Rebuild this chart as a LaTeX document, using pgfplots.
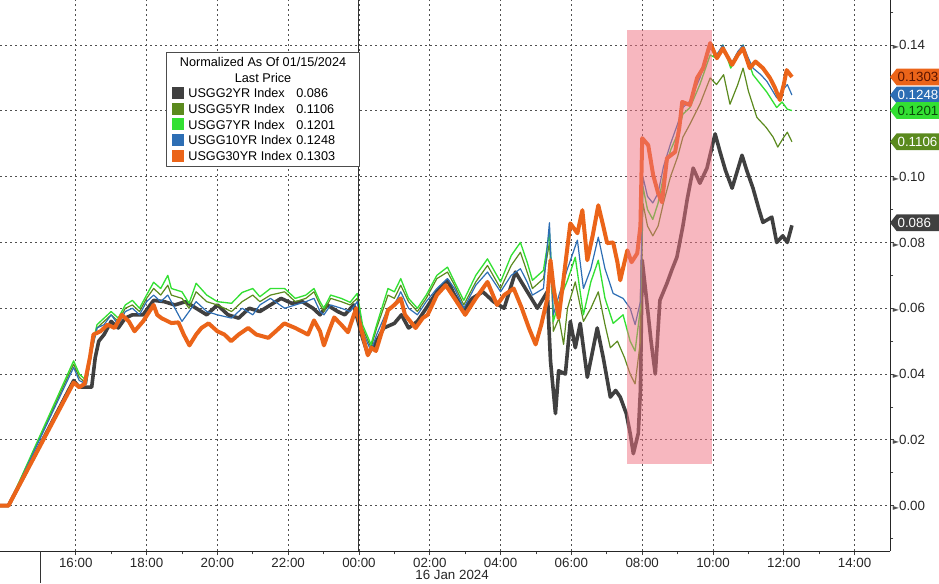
\documentclass[border=0pt]{standalone}
\usepackage{pgfplots}
\pgfplotsset{compat=1.18}
\usepackage{pgfplotstable}
\usepackage{fontspec}
\setmainfont{Liberation Sans}
\newfontfamily\dejavu{DejaVu Sans}

\definecolor{cTwo}{HTML}{404040}
\definecolor{cFive}{HTML}{5B8A1E}
\definecolor{cSeven}{HTML}{33E033}
\definecolor{cTen}{HTML}{2D6EB4}
\definecolor{cThirty}{HTML}{EB6419}
\definecolor{cBand}{HTML}{F07080}
\definecolor{cGrid}{HTML}{505050}
\definecolor{tagRed}{HTML}{5A1400}
\definecolor{tagGreen}{HTML}{0A4A0A}

% hours from 00:00 on 16 Jan 2024, normalized yield change
\pgfplotstableread{
h v
-10.14 0
-9.9 0
-8.06 0.038
-7.9 0.036
-7.55 0.036
-7.45 0.045
-7.35 0.050
-7.2 0.052
-7.0 0.056
-6.8 0.054
-6.6 0.057
-6.4 0.058
-6.1 0.058
-5.8 0.0624
-5.5 0.062
-5.2 0.061
-4.9 0.062
-4.6 0.060
-4.3 0.058
-4.0 0.061
-3.7 0.058
-3.4 0.057
-3.1 0.060
-2.8 0.059
-2.5 0.061
-2.2 0.063
-1.9 0.0615
-1.6 0.062
-1.3 0.060
-1.1 0.058
-0.9 0.061
-0.6 0.059
-0.4 0.058
-0.15 0.061
0.1 0.051
0.25 0.046
0.45 0.049
0.7 0.054
1.0 0.0554
1.2 0.058
1.4 0.054
1.65 0.056
1.9 0.060
2.2 0.065
2.5 0.0685
2.7 0.064
2.96 0.0594
3.2 0.063
3.5 0.065
3.8 0.062
4.1 0.060
4.42 0.071
4.7 0.066
5.04 0.060
5.32 0.065
5.41 0.044
5.55 0.028
5.64 0.041
5.83 0.040
5.97 0.056
6.11 0.048
6.25 0.0554
6.45 0.039
6.6 0.047
6.73 0.054
6.90 0.045
7.10 0.033
7.25 0.035
7.38 0.033
7.55 0.028
7.66 0.022
7.75 0.0158
7.89 0.022
7.95 0.035
8.0 0.0746
8.1 0.065
8.25 0.050
8.37 0.040
8.5 0.0624
8.70 0.0676
8.85 0.072
8.98 0.0755
9.15 0.085
9.27 0.093
9.44 0.1026
9.63 0.098
9.83 0.1026
10.06 0.113
10.2 0.1075
10.35 0.102
10.54 0.0965
10.82 0.1065
10.95 0.102
11.13 0.0965
11.3 0.090
11.41 0.0861
11.66 0.0877
11.80 0.080
11.97 0.082
12.1 0.080
12.23 0.0852
}\usTwo

\pgfplotstableread{
h v
-10.14 0
-9.9 0
-8.06 0.043
-7.9 0.039
-7.7 0.037
-7.55 0.047
-7.4 0.054
-7.2 0.056
-7.0 0.058
-6.8 0.056
-6.6 0.060
-6.4 0.061
-6.2 0.059
-6.0 0.063
-5.8 0.066
-5.6 0.064
-5.4 0.067
-5.3 0.064
-5.0 0.063
-4.8 0.060
-4.6 0.065
-4.3 0.062
-4.0 0.061
-3.6 0.059
-3.3 0.062
-3.0 0.064
-2.8 0.062
-2.5 0.064
-2.1 0.065
-1.8 0.062
-1.5 0.063
-1.27 0.065
-1.1 0.061
-0.99 0.059
-0.8 0.063
-0.5 0.062
-0.25 0.061
-0.05 0.063
0.1 0.054
0.34 0.048
0.5 0.054
0.82 0.064
1.0 0.063
1.18 0.067
1.4 0.062
1.65 0.059
1.9 0.063
2.2 0.069
2.5 0.071
2.7 0.067
2.96 0.061
3.3 0.068
3.63 0.073
4.0 0.066
4.3 0.073
4.56 0.077
4.75 0.071
4.9 0.066
5.21 0.069
5.38 0.080
5.45 0.066
5.49 0.053
5.65 0.057
5.78 0.049
5.89 0.060
6.11 0.068
6.34 0.056
6.55 0.060
6.76 0.065
6.95 0.055
7.1 0.048
7.3 0.050
7.5 0.045
7.66 0.040
7.8 0.037
7.95 0.050
8.02 0.092
8.15 0.085
8.3 0.082
8.45 0.085
8.6 0.092
8.8 0.100
9.0 0.106
9.15 0.112
9.35 0.116
9.63 0.122
9.92 0.130
10.1 0.128
10.3 0.131
10.48 0.122
10.7 0.128
10.85 0.133
11.0 0.126
11.24 0.118
11.5 0.115
11.7 0.112
11.83 0.109
12.0 0.112
12.1 0.1135
12.23 0.1106
}\usFive

\pgfplotstableread{
h v
-10.14 0
-9.9 0
-8.06 0.044
-7.9 0.040
-7.7 0.038
-7.55 0.048
-7.4 0.055
-7.2 0.057
-7.0 0.059
-6.8 0.057
-6.6 0.061
-6.4 0.0624
-6.2 0.060
-6.0 0.064
-5.8 0.0679
-5.6 0.066
-5.4 0.070
-5.3 0.066
-5.0 0.065
-4.8 0.0615
-4.6 0.0676
-4.3 0.064
-4.0 0.062
-3.6 0.0615
-3.3 0.0648
-3.0 0.066
-2.8 0.0635
-2.5 0.066
-2.1 0.066
-1.8 0.063
-1.5 0.064
-1.27 0.066
-1.1 0.062
-0.99 0.060
-0.8 0.064
-0.5 0.063
-0.25 0.0618
-0.05 0.0645
0.1 0.055
0.34 0.049
0.5 0.055
0.82 0.066
1.0 0.065
1.18 0.069
1.4 0.063
1.65 0.060
1.9 0.064
2.2 0.070
2.5 0.0725
2.7 0.068
2.96 0.0624
3.3 0.070
3.63 0.075
4.0 0.068
4.3 0.076
4.56 0.080
4.75 0.074
4.9 0.0685
5.21 0.0715
5.38 0.083
5.45 0.070
5.49 0.056
5.65 0.062
5.89 0.0685
6.11 0.0755
6.34 0.058
6.55 0.068
6.76 0.0746
6.95 0.063
7.18 0.0554
7.46 0.058
7.66 0.050
7.8 0.047
7.95 0.060
8.02 0.097
8.15 0.090
8.3 0.087
8.45 0.092
8.6 0.100
8.8 0.108
9.0 0.113
9.15 0.119
9.35 0.121
9.63 0.128
9.92 0.137
10.1 0.136
10.28 0.140
10.5 0.133
10.7 0.137
10.85 0.140
11.0 0.135
11.13 0.131
11.35 0.128
11.52 0.1257
11.8 0.121
11.95 0.1227
12.1 0.1205
12.23 0.1201
}\usSeven

\pgfplotstableread{
h v
-10.14 0
-9.9 0
-8.06 0.042
-7.9 0.038
-7.7 0.037
-7.55 0.047
-7.4 0.054
-7.2 0.055
-7.0 0.058
-6.8 0.055
-6.6 0.059
-6.4 0.060
-6.2 0.058
-6.0 0.062
-5.8 0.064
-5.6 0.062
-5.4 0.064
-5.2 0.060
-5.0 0.056
-4.8 0.059
-4.6 0.062
-4.3 0.059
-4.0 0.058
-3.6 0.057
-3.3 0.060
-3.0 0.058
-2.8 0.061
-2.5 0.063
-2.1 0.060
-1.8 0.061
-1.5 0.062
-1.27 0.063
-1.1 0.059
-0.99 0.058
-0.8 0.061
-0.5 0.060
-0.25 0.059
-0.05 0.062
0.1 0.053
0.34 0.047
0.5 0.052
0.82 0.060
1.0 0.061
1.18 0.065
1.4 0.060
1.65 0.058
1.9 0.062
2.2 0.066
2.5 0.069
2.7 0.066
2.96 0.060
3.3 0.067
3.63 0.071
4.0 0.065
4.3 0.070
4.56 0.072
4.75 0.068
4.9 0.064
5.21 0.066
5.38 0.086
5.45 0.068
5.49 0.058
5.65 0.064
5.89 0.072
6.17 0.0807
6.34 0.066
6.55 0.072
6.76 0.0816
6.95 0.072
7.18 0.0645
7.46 0.063
7.66 0.060
7.8 0.055
7.95 0.062
8.02 0.100
8.15 0.094
8.3 0.092
8.45 0.095
8.6 0.103
8.8 0.110
9.0 0.116
9.15 0.121
9.35 0.123
9.63 0.130
9.92 0.139
10.1 0.137
10.28 0.140
10.5 0.134
10.7 0.138
10.85 0.140
11.0 0.136
11.13 0.133
11.35 0.131
11.52 0.129
11.8 0.124
11.95 0.126
12.1 0.128
12.23 0.1248
}\usTen

\pgfplotstableread{
h v
-10.14 0
-9.9 0
-8.06 0.0374
-7.9 0.036
-7.75 0.037
-7.6 0.045
-7.5 0.052
-7.3 0.053
-7.1 0.055
-6.9 0.054
-6.7 0.058
-6.5 0.056
-6.34 0.053
-6.1 0.056
-5.8 0.061
-5.7 0.058
-5.58 0.057
-5.3 0.0555
-5.1 0.0557
-4.95 0.052
-4.79 0.0487
-4.6 0.052
-4.45 0.054
-4.25 0.0554
-4.0 0.053
-3.8 0.052
-3.61 0.050
-3.4 0.052
-3.13 0.054
-2.9 0.052
-2.56 0.051
-2.35 0.053
-2.11 0.0554
-1.8 0.054
-1.44 0.052
-1.27 0.0563
-1.1 0.053
-0.99 0.0487
-0.85 0.053
-0.70 0.0572
-0.5 0.055
-0.31 0.0527
-0.08 0.060
0.1 0.052
0.25 0.0457
0.35 0.048
0.48 0.047
0.65 0.053
0.82 0.0594
1.0 0.061
1.18 0.063
1.3 0.058
1.45 0.056
1.6 0.054
1.8 0.057
1.94 0.058
2.2 0.064
2.45 0.067
2.7 0.063
3.0 0.058
3.3 0.063
3.63 0.068
3.9 0.061
4.1 0.064
4.37 0.066
4.6 0.060
4.8 0.054
4.99 0.049
5.15 0.055
5.32 0.063
5.41 0.0746
5.5 0.066
5.64 0.057
5.78 0.069
5.97 0.0858
6.17 0.0828
6.31 0.0898
6.45 0.0746
6.6 0.082
6.76 0.0913
6.9 0.085
7.01 0.0798
7.18 0.080
7.3 0.074
7.38 0.0685
7.5 0.074
7.58 0.0776
7.7 0.074
7.86 0.0767
7.95 0.085
8.0 0.1117
8.17 0.1096
8.31 0.1005
8.45 0.095
8.56 0.0922
8.70 0.1056
8.93 0.1075
9.05 0.115
9.13 0.1227
9.35 0.1218
9.55 0.130
9.72 0.133
9.92 0.1406
10.11 0.136
10.28 0.139
10.54 0.134
10.7 0.137
10.85 0.139
11.04 0.133
11.2 0.135
11.41 0.133
11.61 0.130
11.75 0.127
11.89 0.1233
12.0 0.128
12.08 0.1324
12.23 0.1303
}\usThirty

\newcommand\tri{{\dejavu\fontsize{6pt}{6pt}\selectfont\textcolor{cGrid}{►}}}
\newcommand\sw[1]{\textcolor{#1}{\rule[-0.9pt]{9pt}{9pt}}\hspace{3pt}}
% last-price tag on the right axis: value, fill, text colour
\newcommand\lasttag[3]{%
  \fill[#2] (axis cs:15,#1) -- ++(5pt,6.3pt) -- ++(45pt,0pt) -- ++(0pt,-12.6pt) -- ++(-45pt,0pt) -- cycle;
  \node[anchor=west, inner sep=0pt, text=#3, font=\fontsize{10pt}{12pt}\selectfont] at ([xshift=5.5pt]axis cs:15,#1) {#1};}

\begin{document}
\begin{tikzpicture}
\begin{axis}[
    at={(0,0)}, anchor=north west,
    scale only axis,
    width=667.5pt, height=413.25pt,
    xmin=-10.14, xmax=15.0,
    ymin=-0.0138, ymax=0.1537,
    axis x line*=bottom, axis y line*=right,
    axis line style={-, black!85, line width=0.75pt},
    clip=false,
    tick align=outside,
    major tick length=3pt, minor tick length=2.5pt,
    every tick/.style={black!75, line width=0.6pt},
    xtick={-8,-6,...,14},
    xticklabels={16:00,18:00,20:00,22:00,00:00,02:00,04:00,06:00,08:00,10:00,12:00,14:00},
    minor xtick={-9,-7,...,13},
    ytick={0,0.02,...,0.141},
    yticklabels={{\tri0.00},{\tri0.02},{\tri0.04},{\tri0.06},{\tri0.08},{\tri0.10},{},{\tri0.14}},
    minor ytick={-0.01,0.01,0.03,0.05,0.07,0.09,0.11,0.13,0.15},
    ticklabel style={font=\fontsize{10pt}{12pt}\selectfont, text=black!85},
    yticklabel style={anchor=west, inner sep=0pt, xshift=-1pt},
    xticklabel style={inner sep=0pt, anchor=north, yshift=-2pt},
    grid=major,
    major grid style={cGrid, line width=0.6pt, dash pattern=on 1.5pt off 2.25pt},
    line join=round,
]
\addplot[cTwo, line width=2.7pt] table[x=h,y=v] {\usTwo};
\addplot[cFive, line width=0.9pt] table[x=h,y=v] {\usFive};
\addplot[cSeven, line width=1.0pt] table[x=h,y=v] {\usSeven};
\addplot[cTen, line width=0.9pt] table[x=h,y=v] {\usTen};
\addplot[cThirty, line width=3.0pt] table[x=h,y=v] {\usThirty};

% highlighted window 07:35-10:00
\addplot[draw=none, fill=cBand, fill opacity=0.5] coordinates {(7.58,0.0128) (9.97,0.0128) (9.97,0.1446) (7.58,0.1446)} -- cycle;

% day separator
\draw[black!80, line width=0.75pt] (axis cs:0,-0.0138) -- (axis cs:0,0.1537);
\draw[black!80, line width=0.75pt] (axis cs:-9,-0.0138) -- ++(0pt,-24pt);
\node[font=\fontsize{10pt}{12pt}\selectfont, text=black!85] at ([yshift=-18pt]axis cs:2.63,-0.0138) {16 Jan 2024};

\lasttag{0.1303}{cThirty}{tagRed}
\lasttag{0.1248}{cTen}{white}
\lasttag{0.1201}{cSeven}{tagGreen}
\lasttag{0.1106}{cFive}{white}
\lasttag{0.086}{cTwo}{white}

% legend
\node[anchor=north west, draw=black!70, fill=white, line width=0.6pt,
      inner xsep=4.5pt, inner ysep=3.5pt, align=left,
      font=\fontsize{9.5pt}{11.8pt}\selectfont]
  at (axis description cs:0.1865,0.9056) {%
  \makebox[136pt][c]{Normalized As Of 01/15/2024}\\
  \makebox[136pt][c]{Last Price}\\
  \sw{cTwo}\makebox[81pt][l]{USGG2YR Index}0.086\\
  \sw{cFive}\makebox[81pt][l]{USGG5YR Index}0.1106\\
  \sw{cSeven}\makebox[81pt][l]{USGG7YR Index}0.1201\\
  \sw{cTen}\makebox[81pt][l]{USGG10YR Index}0.1248\\
  \sw{cThirty}\makebox[81pt][l]{USGG30YR Index}0.1303};
\end{axis}
\pgfresetboundingbox
\path[use as bounding box] (0,0) rectangle (704.25pt,-437.25pt);
\end{tikzpicture}
\end{document}
